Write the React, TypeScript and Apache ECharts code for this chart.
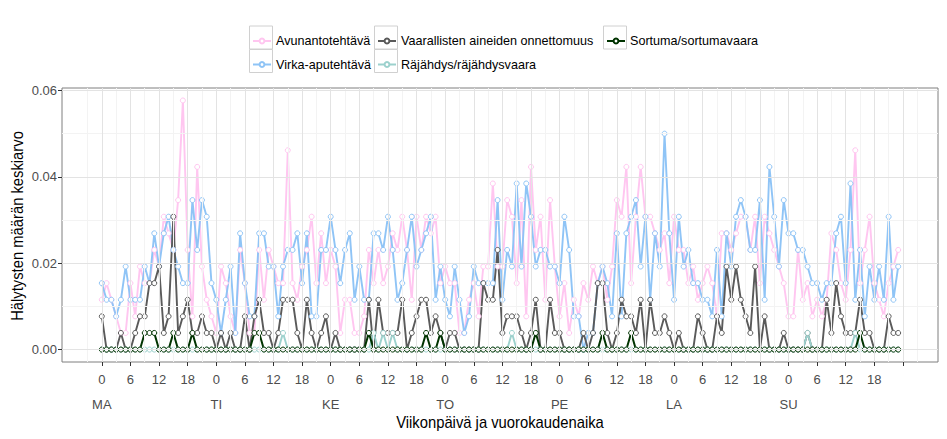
import React, { useEffect, useRef } from "react";
import * as echarts from "echarts";

// Values are read as counts per hour-of-week; mean per week = count / WEEKS
const WEEKS = 260;
const dayNames = ["MA", "TI", "KE", "TO", "PE", "LA", "SU"];
const hourLabels = ["0", "6", "12", "18"];
const yTicks = [0, 0.02, 0.04, 0.06];
const seriesNames = [
  "Avunantotehtävä",
  "Virka-aputehtävä",
  "Vaarallisten aineiden onnettomuus",
  "Räjähdys/räjähdysvaara",
  "Sortuma/sortumavaara",
];

const avunanto = [
  3,4,3,2,1,1,4,2,5,4,4,6,5,8,7,6,9,15,6,2,11,5,3,2,
  1,5,4,2,1,6,4,1,1,6,3,6,5,4,4,12,4,3,5,6,8,4,7,4,
  6,5,1,3,3,1,1,2,6,4,6,4,5,7,6,8,6,3,8,6,8,7,8,4,
  5,4,4,1,1,3,4,2,5,5,10,5,5,9,8,4,9,2,11,6,8,3,9,5,
  2,4,1,3,2,4,3,5,4,5,3,5,9,8,11,4,8,11,8,8,7,6,7,4,
  8,6,6,4,5,3,4,5,4,2,7,7,6,7,8,8,6,8,4,8,7,6,5,4,
  2,2,6,3,4,2,3,2,3,7,6,4,3,6,12,4,6,8,4,3,2,4,5,6,
];
const virka = [
  4,3,3,2,3,5,3,3,3,5,4,7,5,7,8,6,5,4,4,9,6,9,8,4,
  3,1,3,5,1,7,4,2,2,7,7,5,5,2,5,6,6,7,4,7,2,2,6,6,
  8,6,4,6,7,3,5,3,3,7,7,6,8,6,3,4,6,8,5,6,7,8,3,5,
  3,2,5,3,1,2,5,4,4,4,4,9,3,6,5,10,5,10,8,5,6,6,5,5,
  4,8,6,2,2,0,1,1,4,5,4,2,7,2,7,8,9,5,8,3,7,5,13,7,
  3,8,5,6,4,4,3,3,2,6,2,7,5,8,9,8,6,6,9,3,11,8,5,9,
  7,7,6,6,5,4,4,3,4,4,7,8,4,10,3,6,2,5,3,5,3,8,3,5,
];
const vaaralliset = [
  2,0,0,0,1,0,0,1,2,2,4,4,5,1,2,8,1,2,3,1,1,2,1,1,
  0,1,0,1,0,0,2,0,2,3,1,1,0,1,3,3,3,1,0,3,1,0,1,2,
  0,1,0,0,0,0,0,0,3,0,3,1,1,1,1,3,0,1,2,3,3,1,2,1,
  0,1,1,0,0,0,0,0,4,3,3,6,1,2,2,2,1,0,1,3,0,0,3,1,
  1,0,0,0,0,1,0,1,4,4,1,0,1,3,2,2,1,3,0,3,1,1,2,1,
  0,1,0,0,0,2,1,0,0,2,1,5,3,5,3,2,1,5,0,2,0,0,0,1,
  0,0,0,0,1,0,0,0,3,1,4,2,1,1,1,3,1,1,0,0,0,2,1,1,
];
const rajahdys = [
  0,0,0,0,0,0,0,0,0,0,0,0,0,0,0,0,0,0,0,0,0,0,0,0,
  0,0,0,0,0,0,0,0,0,0,0,0,0,0,1,0,0,0,0,0,0,0,0,0,
  0,0,0,0,0,0,0,0,0,1,0,1,0,1,0,0,0,0,0,0,0,0,0,0,
  0,0,0,0,0,0,0,0,0,0,0,0,0,0,1,0,0,0,0,0,0,0,0,0,
  0,0,0,0,0,0,0,0,0,0,0,0,0,0,0,0,0,0,0,0,0,0,0,0,
  0,0,0,0,0,0,0,0,0,0,0,0,0,0,0,0,0,0,0,0,0,0,0,0,
  0,0,0,0,1,0,0,0,0,0,0,0,0,0,1,0,0,0,0,0,0,0,0,0,
];
const sortuma = [
  0,0,0,0,0,0,0,0,0,1,1,1,0,0,0,1,0,0,0,1,0,0,0,0,
  0,0,0,0,0,0,0,0,1,1,0,0,0,0,0,0,0,0,0,0,0,0,0,0,
  0,0,0,0,0,0,0,0,1,0,0,0,0,0,0,0,0,0,0,0,1,0,0,1,
  0,0,0,0,0,0,0,0,0,0,0,0,0,0,0,0,0,0,0,1,0,0,0,0,
  0,0,0,0,0,0,0,0,0,1,0,0,0,0,0,1,0,0,0,0,0,0,0,0,
  0,0,0,0,0,0,0,0,0,0,0,0,0,0,0,0,0,0,0,0,0,0,0,0,
  0,0,0,0,0,0,0,0,0,0,0,0,0,0,0,1,0,0,0,0,0,0,0,0,
];

const allCounts = [avunanto, virka, vaaralliset, rajahdys, sortuma];
const colors = ["#FFC6F0", "#8FC4F6", "#5A5A5A", "#9CD1CD", "#003300"];
const lineWidths = [1.9, 1.9, 1.9, 1.9, 2];

const FONT = "'Liberation Sans', Arial, sans-serif";

export default function App() {
  const ref = useRef<HTMLDivElement>(null);
  useEffect(() => {
    if (!ref.current) return;
    const chart = echarts.init(ref.current, null, { renderer: "svg" });

    const nHours = avunanto.length;
    const hourTicks: number[] = [];
    const hourLabelVals: number[] = [];
    const dayVals: number[] = [];
    for (let d = 0; d < dayNames.length; d++) {
      dayVals.push(d * 24);
      for (let k = 0; k < hourLabels.length; k++) {
        hourTicks.push(d * 24 + k * 6);
        hourLabelVals.push(d * 24 + k * 6);
      }
    }
    hourTicks.push(nHours);

    const major = { color: "#E3E3E3", width: 1, type: "solid" };
    const minor = { color: "#F3F3F3", width: 1, type: "solid" };
    const majorX = hourTicks.map((v) => ({ xAxis: v, lineStyle: major }));
    const minorX = [-3, ...hourTicks.map((v) => v + 3)].map((v) => ({ xAxis: v, lineStyle: minor }));
    const majorY = yTicks.map((v) => ({ yAxis: v, lineStyle: major }));
    const minorY = [0.01, 0.03, 0.05].map((v) => ({ yAxis: v, lineStyle: minor }));

    const dataSeries = allCounts.map((arr, s) => ({
      name: seriesNames[s],
      type: "line",
      data: arr.map((c, i) => [i, c / WEEKS]),
      symbol: "circle",
      symbolSize: 5,
      showAllSymbol: true,
      itemStyle: { color: "#ffffff", borderColor: colors[s], borderWidth: 1 },
      lineStyle: { color: colors[s], width: lineWidths[s] },
      emphasis: { disabled: true },
      z: 3,
    }));

    const legendPos = [
      [252, 34.5],
      [252, 58],
      [377, 34.5],
      [377, 58],
      [606, 34.5],
    ];
    const keyBoxes = [
      [249.5, 26],
      [249.5, 49.5],
      [374.5, 26],
      [374.5, 49.5],
      [603.5, 26],
    ];

    chart.setOption({
      animation: false,
      backgroundColor: "#ffffff",
      grid: {
        left: 62,
        right: 9,
        top: 88,
        bottom: 77,
        show: true,
        borderColor: "#7F7F7F",
        borderWidth: 1,
        backgroundColor: "#ffffff",
      },
      legend: seriesNames.map((n, k) => ({
        data: [n],
        left: legendPos[k][0],
        top: legendPos[k][1],
        padding: 0,
        itemWidth: 18,
        itemHeight: 6,
        selectedMode: false,
        textStyle: { fontFamily: FONT, fontSize: 12.6, color: "#000" },
      })),
      xAxis: [
        {
          type: "value",
          min: -8.35,
          max: 175.35,
          axisLine: { show: false, onZero: false },
          axisTick: { show: true, length: 4, customValues: hourTicks, lineStyle: { color: "#333333" } },
          axisLabel: {
            customValues: hourLabelVals,
            formatter: (v: number) => hourLabels[Math.round((v % 24) / 6)],
            color: "#4D4D4D",
            fontSize: 13,
            fontFamily: FONT,
            margin: 11,
          },
          splitLine: { show: false },
        },
        {
          type: "value",
          min: -8.35,
          max: 175.35,
          position: "bottom",
          axisLine: { show: false, onZero: false },
          axisTick: { show: false, customValues: dayVals },
          axisLabel: {
            customValues: dayVals,
            formatter: (v: number) => dayNames[Math.round(v / 24)],
            color: "#4D4D4D",
            fontSize: 13,
            fontFamily: FONT,
            margin: 36,
          },
          splitLine: { show: false },
        },
      ],
      yAxis: {
        type: "value",
        min: -0.00288,
        max: 0.06058,
        axisLine: { show: false, onZero: false },
        axisTick: { show: true, length: 4, customValues: yTicks, lineStyle: { color: "#333333" } },
        axisLabel: {
          customValues: yTicks,
          formatter: (v: number) => v.toFixed(2),
          color: "#4D4D4D",
          fontSize: 13,
          fontFamily: FONT,
          margin: 5,
        },
        splitLine: { show: false },
      },
      graphic: [
        ...keyBoxes.map(([x, y]) => ({
          type: "rect",
          shape: { x, y, width: 23, height: 23 },
          style: { fill: "none", stroke: "#D0D0D0", lineWidth: 1 },
          z: 1,
        })),
        {
          type: "text",
          x: 500,
          y: 422,
          scaleX: 0.87,
          style: {
            text: "Viikonpäivä ja vuorokaudenaika",
            fill: "#000",
            fontSize: 17,
            fontFamily: FONT,
            textAlign: "center",
            textVerticalAlign: "middle",
          },
        },
        {
          type: "text",
          x: 17,
          y: 226,
          rotation: Math.PI / 2,
          scaleX: 0.87,
          style: {
            text: "Hälytysten määrän keskiarvo",
            fill: "#000",
            fontSize: 17,
            fontFamily: FONT,
            textAlign: "center",
            textVerticalAlign: "middle",
          },
        },
      ],
      series: [
        {
          name: "grid",
          type: "line",
          data: [[0, 0]],
          showSymbol: false,
          lineStyle: { opacity: 0 },
          silent: true,
          z: 1,
          markLine: {
            silent: true,
            symbol: ["none", "none"],
            label: { show: false },
            lineStyle: { type: "solid" },
            animation: false,
            data: [...minorX, ...minorY, ...majorX, ...majorY],
          },
        },
        ...dataSeries,
      ],
    });
    return () => chart.dispose();
  }, []);
  return (
    <div
      ref={ref}
      style={{ width: 947, height: 439, position: "fixed", left: 0, top: 0 }}
    />
  );
}
